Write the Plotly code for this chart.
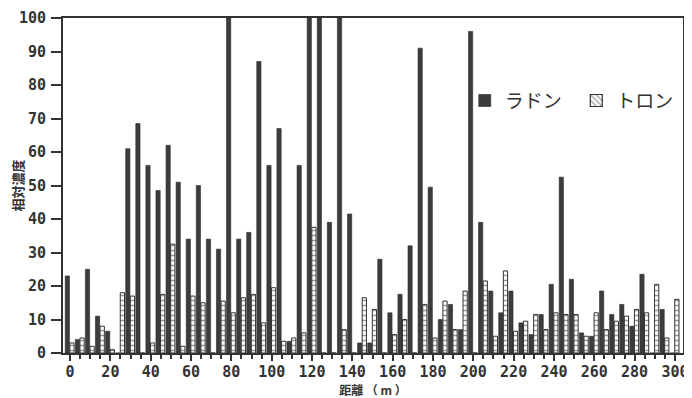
import plotly.graph_objects as go

distance = list(range(0, 301, 5))
radon = [23, 4, 25, 11, 6.5, 0, 61, 68.5, 56, 48.5,
         62, 51, 34, 50, 34, 31, 100, 34, 36, 87,
         56, 67, 3.5, 56, 100, 100, 39, 100, 41.5, 3,
         3, 28, 12, 17.5, 32, 91, 49.5, 10, 14.5, 7,
         96, 39, 18.5, 12, 18.5, 9, 5.5, 11.5, 20.5, 52.5,
         22, 6, 5, 18.5, 11.5, 14.5, 8, 23.5, 0, 13, 0]
thoron = [3, 4.5, 2, 8, 1, 18, 17, 0, 3, 17.5,
          32.5, 2, 17, 15, 0, 15.5, 12, 16.5, 17.5, 9,
          19.5, 3.5, 4.5, 6, 37.5, 0, 0, 7, 0, 16.5,
          13, 0, 5.5, 10, 0, 14.5, 4.5, 15.5, 7, 18.5,
          0, 21.5, 5, 24.5, 6.5, 9.5, 11.5, 7, 12, 11.5,
          11.5, 5, 12, 7, 9.5, 11, 13, 12, 20.5, 4.5, 16]

x_ticks = list(range(0, 301, 20))
y_ticks = list(range(0, 101, 10))

ink = "#333333"
dark = "#3c3c3c"
mono = "DejaVu Sans Mono, monospace"
cjk = "Noto Sans CJK JP"

fig = go.Figure()
fig.add_trace(go.Bar(
    x=distance, y=radon, name="ラドン\u2002", offset=-2.4, width=2.1,
    marker=dict(color=dark, line=dict(color="#2a2a2a", width=0.6)),
    showlegend=True))
fig.add_trace(go.Bar(
    x=distance, y=thoron, name="トロン", offset=-0.1, width=2.1,
    marker=dict(color="white", line=dict(color=ink, width=1),
                pattern=dict(shape="-", fgcolor=ink, bgcolor="white",
                             size=5, solidity=0.3)),
    showlegend=False))
# legend entry for thoron (diagonal hatch as in the printed key)
fig.add_trace(go.Bar(
    x=[None], y=[None], name="トロン",
    marker=dict(color="white", line=dict(color=ink, width=1.2),
                pattern=dict(shape="\\", fgcolor=ink, bgcolor="white",
                             size=5, solidity=0.3)),
    showlegend=True))

# the page body adds an 8px margin, so the figure is sized to fit the 692x398 window
fig.update_layout(
    width=684, height=390,
    margin=dict(l=55, r=9, t=10, b=45),
    paper_bgcolor="white", plot_bgcolor="white",
    barmode="overlay",
    font=dict(family=mono, color=ink),
    legend=dict(orientation="h", x=0.648, y=0.81, xanchor="left", yanchor="top",
                font=dict(family=cjk, size=19, color=ink),
                bgcolor="rgba(0,0,0,0)", itemwidth=30, tracegroupgap=0),
    xaxis=dict(range=[-3.5, 304], tickmode="array", tickvals=x_ticks,
               ticktext=[str(v) for v in x_ticks],
               ticks="outside", ticklen=6, tickwidth=2, tickcolor=ink,
               ticklabelstandoff=-2,
               minor=dict(dtick=5, tick0=0, ticks="outside", ticklen=4,
                          tickwidth=1.5, tickcolor=ink),
               showline=True, linewidth=2, linecolor=ink, mirror=True,
               showgrid=False, zeroline=False, automargin=False,
               tickfont=dict(family=mono, size=15, color=ink, weight="bold"),
               title=dict(text="距離 （ m ）", standoff=6,
                          font=dict(family=cjk, size=12, color=ink, weight="bold"))),
    yaxis=dict(range=[0, 100], tickmode="array", tickvals=y_ticks,
               ticks="outside", ticklen=10, tickwidth=2, tickcolor=ink,
               ticklabelstandoff=2,
               showline=True, linewidth=2, linecolor=ink, mirror=True,
               showgrid=False, zeroline=False, automargin=False,
               tickfont=dict(family=mono, size=15, color=ink, weight="bold"),
               title=dict(text="相対濃度", standoff=10,
                          font=dict(family=cjk, size=13, color=ink, weight="bold"))),
)

fig.write_html("out.html")
